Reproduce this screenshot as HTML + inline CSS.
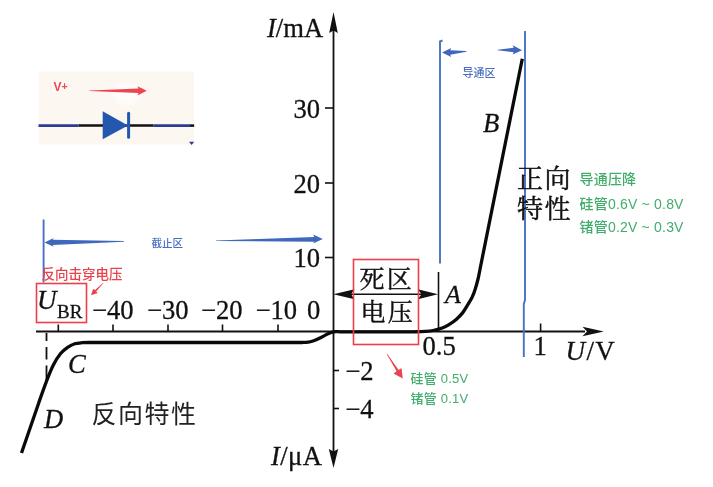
<!DOCTYPE html>
<html lang="zh">
<head>
<meta charset="utf-8">
<title>二极管伏安特性</title>
<style>
html,body{margin:0;padding:0;background:#fff;}
body{width:713px;height:487px;overflow:hidden;position:relative;}
svg{position:absolute;left:0;top:0;display:block;filter:blur(0.350px);}
.s{font-family:"Liberation Serif","Noto Serif CJK SC",serif;fill:#111;stroke:#111;stroke-width:0.300px;}
.n{font-size:26.600px;}
.i{font-style:italic;}
.cs{font-family:"Liberation Serif","Noto Serif CJK SC",serif;fill:#111;font-size:24px;stroke:#111;stroke-width:0.450px;}
.ch{font-family:"Liberation Sans","Noto Sans CJK SC",sans-serif;fill:#222;font-size:25px;font-weight:400;}
.g{font-family:"Liberation Sans","Noto Sans CJK SC",sans-serif;fill:#41ad6b;font-size:14px;font-weight:500;letter-spacing:0.200px;}
.b{font-family:"Liberation Sans","Noto Sans CJK SC",sans-serif;fill:#4a6fc0;font-size:11px;font-weight:500;}
.r{font-family:"Liberation Sans","Noto Sans CJK SC",sans-serif;fill:#e8434d;font-size:13.5px;font-weight:500;}
</style>
</head>
<body>
<svg width="713" height="487" viewBox="0 0 713 487">
<!-- inset diode symbol -->
<defs><filter id="bl" x="-30%" y="-30%" width="160%" height="160%"><feGaussianBlur stdDeviation="2.5"/></filter></defs>
<rect x="38.500" y="71.600" width="155.700" height="72.800" fill="#fdf7f2"/>
<ellipse cx="127" cy="94" rx="13" ry="10" fill="#ffffff" opacity="0.800" filter="url(#bl)"/>
<line x1="38.500" y1="125.600" x2="78.600" y2="125.600" stroke="#2e3a96" stroke-width="2.800"/>
<line x1="78.600" y1="125.600" x2="153.200" y2="125.600" stroke="#111" stroke-width="2.500"/>
<line x1="153.200" y1="125.600" x2="190" y2="125.600" stroke="#2e3a96" stroke-width="2.800"/>
<line x1="190" y1="125.600" x2="194.200" y2="125.600" stroke="#111" stroke-width="2.500"/>
<polygon points="102.700,111.200 102.700,139.200 128,125.600" fill="#2457ae"/>
<line x1="128.600" y1="113.300" x2="128.600" y2="137.200" stroke="#2457ae" stroke-width="3" stroke-linecap="round"/>
<polygon points="89.500,90.500 138.500,88.600 137.500,86.300 146.800,90.800 137.500,95.500 138.500,92.900 89.500,90.900" fill="#ee4450"/>
<text x="53.500" y="90.800" class="r" style="font-size:12px;font-weight:bold;fill:#ee4a55;font-family:'Liberation Sans',sans-serif">V<tspan style="font-size:10.500px" dy="-0.500">+</tspan></text>
<polygon points="189,141.800 194.200,141.800 191.600,145" fill="#2e3a96"/>

<!-- axes -->
<line x1="333.500" y1="30" x2="333.500" y2="452" stroke="#111" stroke-width="1.800"/>
<polygon points="333.500,12 337.800,33 333.500,30.500 329.200,33" fill="#111"/>
<polygon points="333.500,468 338.200,449 333.500,451.500 328.800,449" fill="#111"/>
<line x1="36" y1="331.500" x2="585" y2="331.500" stroke="#111" stroke-width="1.800"/>
<polygon points="603.800,331.500 582.500,326.700 587,331.500 582.500,336.300" fill="#111"/>
<!-- ticks -->
<g stroke="#111" stroke-width="1.600">
<line x1="325" y1="108" x2="333" y2="108"/>
<line x1="325" y1="183" x2="333" y2="183"/>
<line x1="325" y1="257.500" x2="333" y2="257.500"/>
<line x1="334" y1="370.500" x2="339" y2="370.500"/>
<line x1="334" y1="408.500" x2="339" y2="408.500"/>
<line x1="58.300" y1="324.500" x2="58.300" y2="331"/>
<line x1="113" y1="324.500" x2="113" y2="331"/>
<line x1="168" y1="324.500" x2="168" y2="331"/>
<line x1="222.500" y1="324.500" x2="222.500" y2="331"/>
<line x1="278" y1="324.500" x2="278" y2="331"/>
<line x1="540.600" y1="323.500" x2="540.600" y2="331"/>
<line x1="438.500" y1="272" x2="438.500" y2="331"/>
</g>
<!-- dashed -->
<path d="M46.500,333 V341 M46.500,347 V359.500 M46.500,365.500 V380.500" stroke="#111" stroke-width="1.800" fill="none"/>
<!-- curves -->
<path d="M21.5,453 L38.8,402.7 C41.2,395.8 43.6,388.8 46.0,382.6 C48.4,376.4 50.8,370.1 53.2,365.3 C55.6,360.5 58.0,356.8 60.4,353.8 C62.8,350.8 65.2,349.1 67.6,347.4 C70.0,345.7 72.3,344.6 74.7,343.8 C77.1,343.0 79.6,342.9 82.0,342.7 C84.4,342.5 86.7,342.5 89.0,342.5 L302,342.5 C304.0,342.4 306.1,342.4 308.0,342.1 C309.9,341.8 311.4,341.6 313.7,340.8 C315.9,340.0 319.3,338.4 321.5,337.3 C323.7,336.2 325.0,335.2 327.0,334.3 C329.0,333.4 331.3,332.2 333.5,331.8 C335.7,331.4 337.9,331.8 340.0,331.8 L415,331.8 C418.3,331.7 422.0,331.6 425.0,331.4 C428.0,331.2 430.1,331.1 433.0,330.5 C435.9,329.9 439.6,328.9 442.2,328.0 C444.8,327.1 446.3,326.2 448.6,324.8 C450.9,323.4 453.9,321.4 456.2,319.4 C458.5,317.4 460.6,315.4 462.6,312.9 C464.6,310.4 466.4,307.0 468.0,304.3 C469.6,301.6 471.1,299.5 472.3,296.8 C473.6,294.1 474.6,291.1 475.5,288.2 C476.4,285.3 477.1,282.7 477.9,279.5 C478.7,276.3 479.4,272.4 480.1,268.8 L522.3,58.7" fill="none" stroke="#0a0a0a" stroke-width="3.300" stroke-linejoin="round"/>
<!-- dead zone arrow -->
<line x1="350" y1="294.300" x2="425" y2="294.300" stroke="#111" stroke-width="1.600"/>
<polygon points="333.300,294.300 354.500,289.300 351,294.300 354.500,299.300" fill="#111"/>
<polygon points="438,294.300 417.800,289.300 421.500,294.300 417.800,299.300" fill="#111"/>

<!-- blue lines -->
<g stroke="#4a70c4" stroke-width="1.900" fill="none">
<line x1="43.600" y1="219.500" x2="43.600" y2="282.500"/>
<path d="M442.500,40.500 L440,41.500 L440,263.500"/>
<path d="M525,31 L525,300 L523.800,304 L523.800,357"/>
</g>
<g fill="#3f68bd">
<polygon points="44.500,242.500 53.700,237.900 52.600,239.800 124,241.100 124,241.700 52.600,245 53.700,246.700"/>
<polygon points="322.800,239 313.200,234.600 314.300,237 216,240.500 216,241 314.300,241.800 313.200,243.600"/>
<polygon points="442,52.600 451.200,48 450.200,50.200 466.400,51.100 466.400,51.700 450.200,54.700 451.200,57"/>
<polygon points="522,50.200 512.700,45.300 513.700,47.700 497.600,49.700 497.600,50.300 513.700,52.300 512.700,54.600"/>
</g>
<text x="151.500" y="247" class="b" style="font-size:10.500px">截止区</text>
<text x="462.500" y="76.500" class="b">导通区</text>

<!-- red -->
<rect x="36.500" y="283.500" width="50" height="39" fill="none" stroke="#ee3f49" stroke-width="1.600"/>
<rect x="353.500" y="259.500" width="65" height="85" fill="none" stroke="#ee3f49" stroke-width="1.600"/>
<text x="41.500" y="278.800" class="r">反向击穿电压</text>
<polygon points="103.300,282.700 95,290 93.200,288.800 91,295.200 97.800,293 96.200,291.400 103.600,283" fill="#e9444e"/>
<polygon points="386.800,354.200 396.600,371.300 393.500,373.500 402.800,378.500 401.500,368 398.600,370 387.200,353.800" fill="#e9444e"/>

<!-- text labels -->
<text x="267" y="36.500" class="s n"><tspan class="i">I</tspan>/mA</text>
<text x="271" y="465" class="s n" style="letter-spacing:0.400px"><tspan class="i">I</tspan>/μA</text>
<text x="293.500" y="118" class="s n">30</text>
<text x="293.500" y="192.500" class="s n">20</text>
<text x="293.500" y="266.500" class="s n">10</text>
<text x="92" y="318.500" class="s n">−40</text>
<text x="147" y="318.500" class="s n">−30</text>
<text x="201" y="318.500" class="s n">−20</text>
<text x="255.500" y="318.500" class="s n">−10</text>
<text x="307" y="318.500" class="s n">0</text>
<text x="345.300" y="379.500" class="s n">−2</text>
<text x="345.300" y="418" class="s n">−4</text>
<text x="422.500" y="355" class="s n">0.5</text>
<text x="533.500" y="355" class="s n">1</text>
<text x="565.600" y="359.700" class="s" style="font-size:27px;letter-spacing:1.300px"><tspan class="i">U</tspan>/V</text>
<text x="37" y="309" class="s i" style="font-size:27px">U</text>
<text x="57" y="317.500" class="s" style="font-size:19px">BR</text>
<text x="68" y="372.500" class="s n i">C</text>
<text x="44" y="427.500" class="s n i">D</text>
<text x="445" y="302.500" class="s i" style="font-size:26px">A</text>
<text x="483" y="132" class="s n i">B</text>
<text x="359.500" y="288.200" class="cs" style="font-size:25px;letter-spacing:2.200px">死区</text>
<text x="360.500" y="321.300" class="cs" style="font-size:25px;letter-spacing:2.200px">电压</text>
<text x="517" y="187.800" class="cs" style="font-size:26px;letter-spacing:1.500px">正向</text>
<text x="517" y="217.800" class="cs" style="font-size:26px;letter-spacing:1.500px">特性</text>
<text x="91.500" y="423" class="ch" style="letter-spacing:1.500px">反向特性</text>

<!-- green -->
<text x="579.500" y="184" class="g">导通压降</text>
<text x="579.500" y="208.500" class="g">硅管0.6V ~ 0.8V</text>
<text x="579.500" y="231.500" class="g">锗管0.2V ~ 0.3V</text>
<text x="410.500" y="383" class="g" style="font-size:13px">硅管 0.5V</text>
<text x="410.500" y="403" class="g" style="font-size:13px">锗管 0.1V</text>
</svg>
</body>
</html>
